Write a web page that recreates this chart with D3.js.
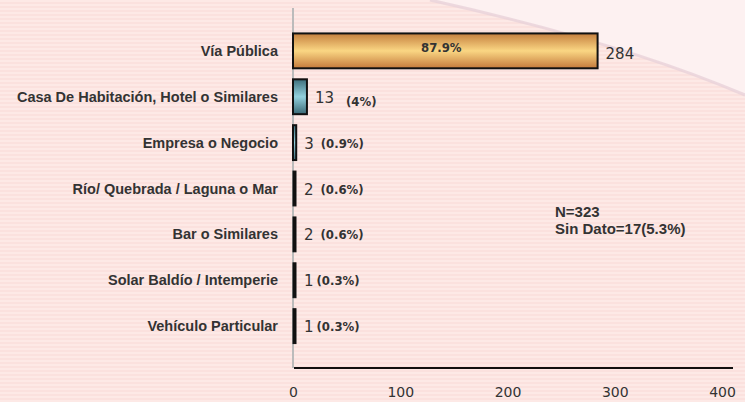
<!DOCTYPE html>
<html>
<head>
<meta charset="utf-8">
<script src="https://cdn.jsdelivr.net/npm/d3@7"></script>
<style>
  body { margin: 0; background: #fce6e3; }
  svg { display: block; }
</style>
</head>
<body>
<div id="chart"></div>
<script>
'use strict';

var w = 745;
var h = 402;

// data
var categories = ['Vía Pública', 'Casa De Habitación, Hotel o Similares', 'Empresa o Negocio',
  'Río/ Quebrada / Laguna o Mar', 'Bar o Similares', 'Solar Baldío / Intemperie', 'Vehículo Particular'];
var counts = [284, 13, 3, 2, 2, 1, 1];
var pctLabels = ['87.9%', '(4%)', '(0.9%)', '(0.6%)', '(0.6%)', '(0.3%)', '(0.3%)'];
var barKinds = ['orange', 'teal', 'teal', 'dark', 'dark', 'dark', 'dark'];
var xTicks = [0, 100, 200, 300, 400];
var notes = ['N=323', 'Sin Dato=17(5.3%)'];

var svg = d3.select('#chart').append('svg')
  .attr('width', w)
  .attr('height', h);

var defs = svg.append('defs');

// striped background
var pat = defs.append('pattern')
  .attr('id', 'stripes')
  .attr('width', 8).attr('height', 4)
  .attr('patternUnits', 'userSpaceOnUse');
pat.append('rect').attr('width', 8).attr('height', 4).attr('fill', '#fde9e6');
pat.append('rect').attr('y', 2).attr('width', 8).attr('height', 2).attr('fill', '#fbe1de');

var orange = defs.append('linearGradient').attr('id', 'gOrange')
  .attr('x1', 0).attr('y1', 0).attr('x2', 0).attr('y2', 1);
orange.append('stop').attr('offset', '0%').attr('stop-color', '#c57f3e');
orange.append('stop').attr('offset', '50%').attr('stop-color', '#fad683');
orange.append('stop').attr('offset', '100%').attr('stop-color', '#c47a3c');

var teal = defs.append('linearGradient').attr('id', 'gTeal')
  .attr('x1', 0).attr('y1', 0).attr('x2', 0).attr('y2', 1);
teal.append('stop').attr('offset', '0%').attr('stop-color', '#3d6f7c');
teal.append('stop').attr('offset', '50%').attr('stop-color', '#92d0dd');
teal.append('stop').attr('offset', '100%').attr('stop-color', '#3a6874');

svg.append('rect').attr('width', w).attr('height', h).attr('fill', 'url(#stripes)');

// light curved area top right
svg.append('path')
  .attr('d', 'M430,0 C520,20 640,50 745,95 L745,0 Z')
  .attr('fill', '#fdf1f1');
svg.append('path')
  .attr('d', 'M430,0 C520,20 640,50 745,95')
  .attr('fill', 'none')
  .attr('stroke', '#e9d2da')
  .attr('stroke-width', 3)
  .attr('opacity', 0.8);

var x = d3.scaleLinear().domain([0, 400]).range([293, 722]);
var y = d3.scaleBand().domain(categories).range([27, 350]).paddingInner(0.24).paddingOuter(0.14);

// y axis line
svg.append('line')
  .attr('x1', x(0)).attr('x2', x(0))
  .attr('y1', 8).attr('y2', 368)
  .attr('stroke', '#bbbbbb').attr('stroke-width', 2);

// x axis
var xAxis = svg.append('g')
  .attr('transform', 'translate(0,368)')
  .call(d3.axisBottom(x).tickValues(xTicks).tickSize(0).tickPadding(19));
xAxis.select('.domain').attr('stroke', '#111').attr('stroke-width', 2)
  .attr('d', 'M' + (x(0) + 1) + ',0H' + (x(400) + 11));
xAxis.selectAll('text')
  .attr('font-family', 'DejaVu Sans, Verdana, sans-serif')
  .attr('font-size', 14)
  .attr('fill', '#333');

// category labels
svg.selectAll('.cat')
  .data(categories)
  .enter().append('text')
  .attr('class', 'cat')
  .attr('x', 278)
  .attr('y', function(d) { return y(d) + y.bandwidth() / 2 + 5; })
  .attr('text-anchor', 'end')
  .attr('font-family', 'Liberation Sans, Arial, sans-serif')
  .attr('font-weight', 'bold')
  .attr('font-size', 14.5)
  .attr('fill', '#333')
  .text(function(d) { return d; });

// bars
svg.selectAll('.bar')
  .data(counts)
  .enter().append('rect')
  .attr('class', 'bar')
  .attr('x', x(0))
  .attr('y', function(d, i) { return y(categories[i]); })
  .attr('width', function(d) { return Math.max(x(d) - x(0), 3); })
  .attr('height', y.bandwidth())
  .attr('fill', function(d, i) {
    if (barKinds[i] === 'orange') return 'url(#gOrange)';
    if (barKinds[i] === 'teal') return 'url(#gTeal)';
    return '#111';
  })
  .attr('stroke', '#111')
  .attr('stroke-width', function(d, i) { return barKinds[i] === 'dark' ? 1 : 2; });

function countX(d) { return Math.max(x(d), x(0) + 3) + 8; }

// count labels
svg.selectAll('.cnt')
  .data(counts)
  .enter().append('text')
  .attr('class', 'cnt')
  .attr('x', countX)
  .attr('y', function(d, i) { return y(categories[i]) + y.bandwidth() / 2 + (i === 0 ? 8 : 6); })
  .attr('font-family', 'DejaVu Sans, Verdana, sans-serif')
  .attr('font-size', 15)
  .attr('fill', '#333')
  .text(function(d) { return d; });

// percentage labels
svg.selectAll('.pct')
  .data(counts)
  .enter().append('text')
  .attr('class', 'pct')
  .attr('x', function(d, i) {
    if (i === 0) return (x(0) + x(d)) / 2 - 4;
    var gap = d >= 10 ? 12 : (d === 1 ? 3 : 7);
    return countX(d) + String(d).length * 9.5 + gap;
  })
  .attr('y', function(d, i) {
    return y(categories[i]) + y.bandwidth() / 2 + (i === 0 ? 1 : (i === 1 ? 9 : 5));
  })
  .attr('text-anchor', function(d, i) { return i === 0 ? 'middle' : 'start'; })
  .attr('font-family', 'DejaVu Sans Condensed, DejaVu Sans, sans-serif')
  .attr('font-stretch', 'condensed')
  .attr('font-weight', 'bold')
  .attr('font-size', 13)
  .attr('fill', '#333')
  .text(function(d, i) { return pctLabels[i]; });

// notes
svg.selectAll('.note')
  .data(notes)
  .enter().append('text')
  .attr('class', 'note')
  .attr('x', 555)
  .attr('y', function(d, i) { return 217 + i * 17; })
  .attr('font-family', 'Liberation Sans, Arial, sans-serif')
  .attr('font-weight', 'bold')
  .attr('font-size', 15)
  .attr('fill', '#333')
  .text(function(d) { return d; });
</script>
</body>
</html>
